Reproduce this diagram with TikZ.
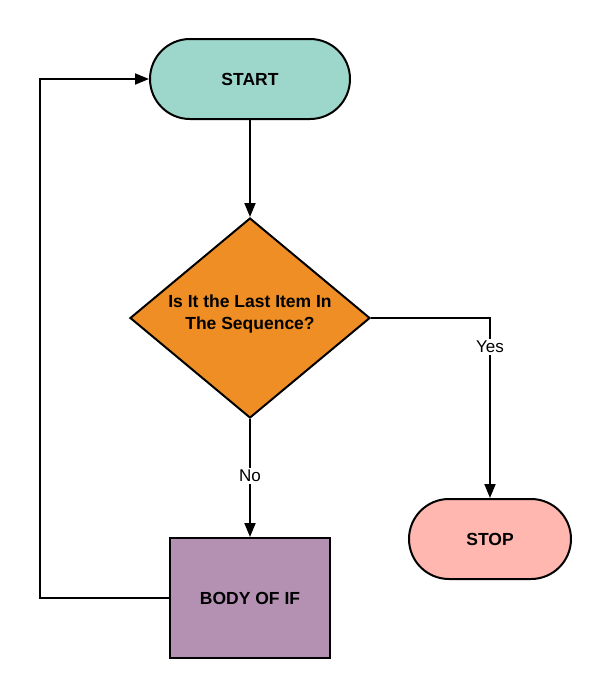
\documentclass[tikz,border=0pt]{standalone}
\usepackage{fontspec}
\setmainfont{Liberation Sans}
\usetikzlibrary{arrows.meta,shapes.geometric,shapes.misc,calc}
\definecolor{startc}{HTML}{9DD6CA}
\definecolor{decc}{HTML}{EF8E24}
\definecolor{stopc}{HTML}{FFB7AF}
\definecolor{bodyc}{HTML}{B491B3}
\tikzset{
  base/.style={draw=black, line width=2pt, font=\fontsize{17.5}{21}\selectfont\bfseries, align=center, inner sep=0pt},
  terminal/.style={base, rounded rectangle},
  conn/.style={line width=2pt, draw=black},
  arr/.style={conn, -{Triangle[length=14pt,width=11pt]}},
  lbl/.style={fill=white, font=\fontsize{17}{20}\selectfont, inner sep=2pt}
}
\begin{document}
\begin{tikzpicture}[x=1pt,y=-1pt]
\useasboundingbox (0,0) rectangle (610,699);
\node[terminal, fill=startc, minimum width=200pt, minimum height=80pt] (start) at (250,79) {START};
\node[base, diamond, fill=decc, minimum width=240pt, minimum height=200pt, aspect=1.2] (dec) at (250,318) {};
\node[font=\fontsize{17.5}{22}\selectfont\bfseries, align=center] (dectext) at (250,314) {Is It the Last Item In\\The Sequence?};
\node[terminal, fill=stopc, minimum width=162pt, minimum height=80pt] (stop) at (490,539) {STOP};
\node[base, rectangle, fill=bodyc, minimum width=160pt, minimum height=120pt] (body) at (250,598) {BODY OF IF};
\coordinate (yc) at (490,318);
\coordinate (l1) at (40,598);
\coordinate (l2) at (40,79);
\draw[arr] (start.south) -- (dec.north);
\draw[arr] (dec.south) -- node[lbl, pos=0.48] (no) {No} (body.north);
\draw[arr] (dec.east) -- (yc) -- node[lbl, pos=0.16] (yes) {Yes} (stop.north);
\draw[arr] (body.west) -- (l1) -- (l2) -- (start.west);
\end{tikzpicture}
\end{document}
